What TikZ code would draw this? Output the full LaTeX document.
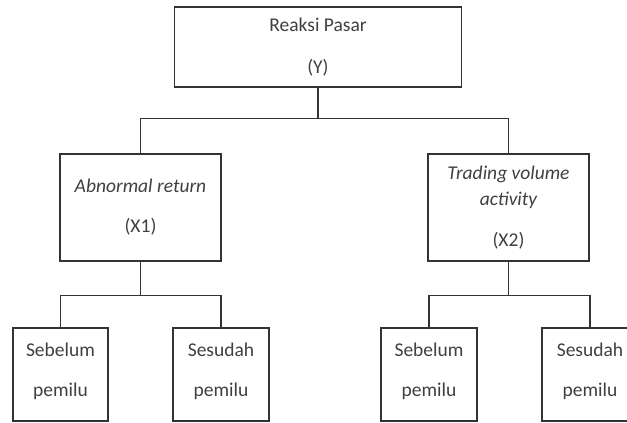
\documentclass[tikz,border=0pt]{standalone}
\usepackage{fontspec}
\setmainfont{Carlito}
\usetikzlibrary{positioning}

\begin{document}
\begin{tikzpicture}[x=1pt,y=-1pt,
  box/.style={draw=black!80,line width=1.3pt,align=center,inner sep=0pt,
    font=\fontsize{19.5}{26}\selectfont,text=black!75},
  link/.style={draw=black!80,line width=1.4pt}]
\clip (0,0) rectangle (627,423);
% top level
\node[box,minimum width=287pt,minimum height=80pt] (pasar) at (318,47) {Reaksi Pasar\\[16pt](Y)};
% second level
\node[box,minimum width=161pt,minimum height=107pt] (abn) at (140.5,207.5) {\itshape Abnormal return\\[14pt](X1)};
\node[box,minimum width=161pt,minimum height=107pt] (trad) at (508.5,207.5) {\itshape Trading volume\\\itshape activity\\[15pt](X2)};
% third level
\node[box,minimum width=95pt,minimum height=93pt] (seb1) at (60.5,374.5) {Sebelum\\[14pt]pemilu\\[-16pt]};
\node[box,minimum width=96pt,minimum height=93pt] (ses1) at (221,374.5) {Sesudah\\[14pt]pemilu\\[-16pt]};
\node[box,minimum width=96pt,minimum height=93pt] (seb2) at (429,374.5) {Sebelum\\[14pt]pemilu\\[-16pt]};
\node[box,minimum width=96pt,minimum height=93pt] (ses2) at (590,374.5) {Sesudah\\[14pt]pemilu\\[-16pt]};
% connectors
\draw[link] (pasar.south) -- ++(0,31) coordinate (j0);
\draw[link] (abn.north) |- (j0) -| (trad.north);
\draw[link] (abn.south) -- ++(0,34) coordinate (j1);
\draw[link] (seb1.north) |- (j1) -| (ses1.north);
\draw[link] (trad.south) -- ++(0,34) coordinate (j2);
\draw[link] (seb2.north) |- (j2) -| (ses2.north);
\end{tikzpicture}
\end{document}
